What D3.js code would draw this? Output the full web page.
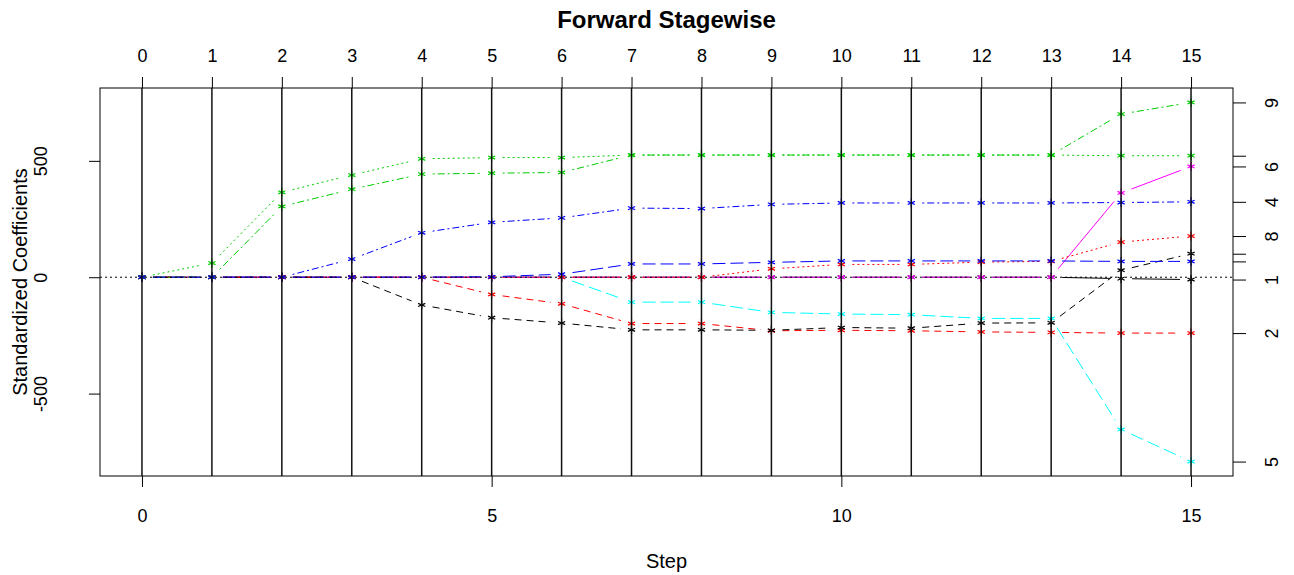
<!DOCTYPE html>
<html>
<head>
<meta charset="utf-8">
<script src="https://cdn.jsdelivr.net/npm/d3@7"></script>
<style>
  body { margin: 0; background: #fff; }
  text { font-family: "Liberation Sans", Arial, sans-serif; fill: #000; }
</style>
</head>
<body>
<div id="chart"></div>
<script>

// Steps of the forward stagewise path
var steps = [0, 1, 2, 3, 4, 5, 6, 7, 8, 9, 10, 11, 12, 13, 14, 15];

// Standardized coefficient of each variable at every step
var v1  = [0, 0, 0, 0, 0, 0, 0, 0, 0, 0, 0, 0, 0, 0, -6, -10];
var v2  = [0, 0, 0, 0, 0, -74, -114, -199, -199, -230, -228, -230, -235, -237, -240, -240];
var v3  = [0, 61, 365, 439, 509, 514, 514, 525, 525, 525, 525, 525, 525, 525, 522, 522];
var v4  = [0, 0, 0, 78, 191, 236, 255, 297, 295, 313, 319, 319, 319, 319, 321, 324];
var v5  = [0, 0, 0, 0, 0, 0, 0, -107, -107, -151, -158, -161, -177, -177, -654, -792];
var v6  = [0, 0, 0, 0, 0, 0, 0, 0, 0, 0, 0, 0, 0, 0, 362, 476];
var v7  = [0, 0, 0, 0, -119, -174, -197, -226, -226, -228, -216, -219, -197, -196, 30, 101];
var v8  = [0, 0, 0, 0, 0, 0, 0, 0, 0, 36, 55, 55, 65, 68, 151, 177];
var v9  = [0, 0, 304, 378, 443, 447, 450, 525, 525, 525, 525, 525, 525, 525, 701, 751];
var v10 = [0, 0, 0, 0, 0, 2, 13, 57, 57, 64, 70, 70, 70, 70, 68, 68];

var coefs = [v1, v2, v3, v4, v5, v6, v7, v8, v9, v10];
var varLabels = ["1", "2", "3", "4", "5", "6", "7", "8", "9", "10"];

var bottomTicks = [0, 5, 10, 15];
var leftTicks = [-500, 0, 500];

// R matplot defaults: col = 1:6, lty = 1:5
var colors = ["#000000", "#ff0000", "#00cd00", "#0000ff", "#00ffff", "#ff00ff"];
var dashes = [null, "7,5", "2,3", "2,3,7,3", "13,5"];

var W = 1294, H = 575;
var box = { left: 100, right: 1233, top: 88, bottom: 476 };

var svg = d3.select("#chart").append("svg")
    .attr("width", W)
    .attr("height", H);

var x = d3.scaleLinear().domain([-0.6, 15.6]).range([box.left, box.right]);
var y = d3.scaleLinear().domain([-854, 813]).range([box.bottom, box.top]);

// Coefficient paths, drawn like type = "b" (gaps round the points)
var gap = 11;
function segments(vals) {
    var segs = [];
    for (var i = 0; i < vals.length - 1; i++) {
        var x1 = x(steps[i]), y1 = y(vals[i]), x2 = x(steps[i + 1]), y2 = y(vals[i + 1]);
        var dx = x2 - x1, dy = y2 - y1, len = Math.sqrt(dx * dx + dy * dy);
        if (len <= 2 * gap) continue;
        var ux = dx / len, uy = dy / len;
        segs.push([x1 + ux * gap, y1 + uy * gap, x2 - ux * gap, y2 - uy * gap]);
    }
    return segs;
}

// asterisk marker (pch = "*")
function star(cx, cy) {
    var r = 4.5, a = r * 0.8, b = r * 0.35;
    return "M" + cx + "," + (cy - r) + "L" + cx + "," + (cy + r) +
        "M" + (cx - a) + "," + (cy - b) + "L" + (cx + a) + "," + (cy + b) +
        "M" + (cx - a) + "," + (cy + b) + "L" + (cx + a) + "," + (cy - b);
}

coefs.forEach(function(vals, j) {
    var col = colors[j % 6];
    var dash = dashes[j % 5];
    var g = svg.append("g");

    g.selectAll("line").data(segments(vals)).enter().append("line")
        .attr("x1", function(d) { return d[0]; })
        .attr("y1", function(d) { return d[1]; })
        .attr("x2", function(d) { return d[2]; })
        .attr("y2", function(d) { return d[3]; })
        .attr("stroke", col)
        .attr("stroke-width", 1)
        .attr("stroke-dasharray", dash);

    g.selectAll("path").data(vals).enter().append("path")
        .attr("d", function(d, i) { return star(x(steps[i]), y(d)); })
        .attr("stroke", col)
        .attr("stroke-width", 1.2)
        .attr("fill", "none");
});

// Zero line
svg.append("line")
    .attr("x1", box.left).attr("x2", box.right)
    .attr("y1", y(0)).attr("y2", y(0))
    .attr("stroke", "#000")
    .attr("stroke-dasharray", "2,3");

// Vertical line at every step
svg.append("g").selectAll("line").data(steps).enter().append("line")
    .attr("x1", function(d) { return x(d); })
    .attr("x2", function(d) { return x(d); })
    .attr("y1", box.top).attr("y2", box.bottom)
    .attr("stroke", "#111")
    .attr("stroke-width", 1.5);

// Box
svg.append("rect")
    .attr("x", box.left).attr("y", box.top)
    .attr("width", box.right - box.left)
    .attr("height", box.bottom - box.top)
    .attr("fill", "none")
    .attr("stroke", "#000");

var fs = 18;
var plain = function(d) { return String(d); };

// Top axis
var topAxis = svg.append("g")
    .attr("transform", "translate(0," + box.top + ")")
    .call(d3.axisTop(x).tickValues(steps).tickFormat(plain).tickSize(11).tickSizeOuter(0));
topAxis.select(".domain").remove();
topAxis.selectAll("text").attr("y", -26).attr("dy", null).style("font-size", fs + "px");

// Bottom axis
var bottomAxis = svg.append("g")
    .attr("transform", "translate(0," + box.bottom + ")")
    .call(d3.axisBottom(x).tickValues(bottomTicks).tickFormat(plain).tickSize(11).tickSizeOuter(0));
bottomAxis.select(".domain").remove();
bottomAxis.selectAll("text").attr("y", 46).attr("dy", null).style("font-size", fs + "px");

// Left axis
var leftAxis = svg.append("g")
    .attr("transform", "translate(" + box.left + ",0)")
    .call(d3.axisLeft(y).tickValues(leftTicks).tickFormat(plain).tickSize(11).tickSizeOuter(0));
leftAxis.select(".domain").remove();
leftAxis.selectAll("text")
    .attr("x", null).attr("y", null).attr("dy", null)
    .attr("text-anchor", "middle")
    .attr("transform", "translate(-53,0) rotate(-90)")
    .style("font-size", fs + "px");

// Right axis: final coefficients, labelled by variable number
var finals = coefs.map(function(c) { return c[c.length - 1]; });
var rightAxis = svg.append("g")
    .attr("transform", "translate(" + box.right + ",0)")
    .call(d3.axisRight(y).tickValues(finals).tickSize(13).tickSizeOuter(0)
        .tickFormat(function(d, i) { return varLabels[i]; }));
rightAxis.select(".domain").remove();

// skip labels that would overlap, working upward from the bottom
var order = d3.range(finals.length).sort(function(a, b) { return finals[a] - finals[b]; });
var shown = {}, lastY = null;
order.forEach(function(i) {
    var py = y(finals[i]);
    if (lastY === null || lastY - py >= 28) { shown[i] = true; lastY = py; }
});
rightAxis.selectAll("text")
    .attr("x", null).attr("y", null).attr("dy", null)
    .attr("text-anchor", "middle")
    .attr("transform", "translate(45,0) rotate(-90)")
    .style("font-size", fs + "px")
    .style("display", function(d, i) { return shown[i] ? null : "none"; });

// Titles
svg.append("text")
    .attr("x", (box.left + box.right) / 2).attr("y", 28)
    .attr("text-anchor", "middle")
    .style("font-size", "24px").style("font-weight", "bold")
    .text("Forward Stagewise");

svg.append("text")
    .attr("x", (box.left + box.right) / 2).attr("y", 568)
    .attr("text-anchor", "middle")
    .style("font-size", "20px")
    .text("Step");

svg.append("text")
    .attr("transform", "translate(27," + ((box.top + box.bottom) / 2) + ") rotate(-90)")
    .attr("text-anchor", "middle")
    .style("font-size", "20px")
    .text("Standardized Coefficients");

</script>
</body>
</html>
